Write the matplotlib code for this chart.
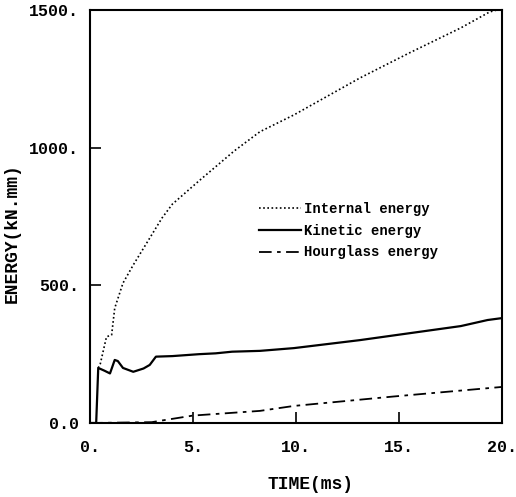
import matplotlib
matplotlib.use("Agg")
import matplotlib.pyplot as plt

# Data
t_internal = [0.4, 0.5, 0.8, 1.05, 1.2, 1.6, 2.1, 2.6, 3.5, 4.0, 5.3, 7.0, 8.25, 9.9, 13.1, 15.5, 18.0, 19.4, 20.0]
e_internal = [200, 215, 313, 320, 417, 508, 574, 635, 745, 795, 880, 988, 1058, 1119, 1253, 1344, 1435, 1493, 1505]

t_kinetic = [0, 0.3, 0.4, 0.7, 0.97, 1.2, 1.35, 1.6, 2.1, 2.6, 2.9, 3.2, 4.0, 5.3, 6.1, 6.9, 8.25, 9.9, 13.1, 15.5, 18.0, 19.3, 20.0]
e_kinetic = [0, 0, 200, 190, 180, 229, 225, 200, 186, 198, 211, 241, 243, 250, 253, 259, 262, 272, 301, 326, 352, 374, 381]

t_hourglass = [0, 3.0, 3.4, 5.0, 8.25, 9.9, 14.7, 20.0]
e_hourglass = [0, 3, 8, 27, 44, 62, 96, 131]

x_ticks = [0, 5, 10, 15, 20]
x_ticklabels = ["0.", "5.", "10.", "15.", "20."]
y_ticks = [0, 500, 1000, 1500]
y_ticklabels = ["0.0", "500.", "1000.", "1500."]

font = "Liberation Mono"

fig = plt.figure(figsize=(5.16, 4.97), dpi=100)
ax = fig.add_axes([90/516, 1-423/497, 412/516, 413/497])

ax.plot(t_internal, e_internal, color="black", lw=1.2, linestyle=(0, (1, 1.5)), label="Internal energy")
ax.plot(t_kinetic, e_kinetic, color="black", lw=1.6, linestyle="-", label="Kinetic energy")
ax.plot(t_hourglass, e_hourglass, color="black", lw=1.3, linestyle=(0, (7, 3, 2, 3)), label="Hourglass energy")

ax.set_xlim(0, 20)
ax.set_ylim(0, 1500)
ax.set_xticks(x_ticks)
ax.set_xticklabels(x_ticklabels)
ax.set_yticks(y_ticks)
ax.set_yticklabels(y_ticklabels)
ax.tick_params(direction="in", length=8, width=1.2, labelsize=12, pad=8)
ax.tick_params(axis="x", pad=12)
for lbl in ax.get_xticklabels() + ax.get_yticklabels():
    lbl.set_fontfamily(font)
    lbl.set_fontweight("bold")
for s in ax.spines.values():
    s.set_linewidth(1.5)

ax.set_xlabel("TIME(ms)", fontsize=13, fontweight="bold", fontfamily=font)
ax.set_ylabel("ENERGY(kN.mm)", fontsize=13, fontweight="bold", fontfamily=font)
ax.xaxis.set_label_coords(0.534, -0.128)
ax.yaxis.set_label_coords(-0.168, 0.46)

leg = ax.legend(loc="upper left", bbox_to_anchor=(0.38, 0.565), frameon=False,
                handlelength=3.0, handletextpad=0.2, labelspacing=0.55,
                prop={"family": font, "weight": "bold", "size": 10})

fig.savefig("out.png", dpi=100)
